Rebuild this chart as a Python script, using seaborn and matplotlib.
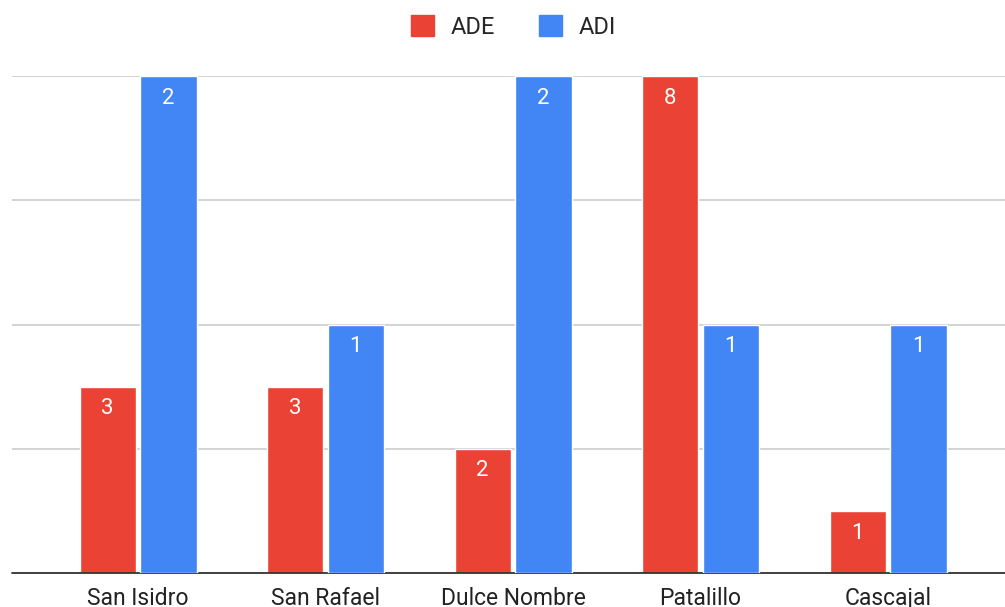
import numpy as np
import pandas as pd
import matplotlib.pyplot as plt
import seaborn as sns

# -------------------------------
# Data
# -------------------------------
municipios = ["San Isidro", "San Rafael", "Dulce Nombre", "Patalillo", "Cascajal"]
ade = [3, 3, 2, 8, 1]
adi = [2, 1, 2, 1, 1]

df = pd.DataFrame({"Municipio": municipios, "ADE": ade, "ADI": adi})

red = "#EA4335"
blue = "#4285F4"

sns.set_theme(style="white")
plt.rcParams["font.family"] = ["Roboto", "DejaVu Sans"]

fig = plt.figure(figsize=(10.05, 6.07), dpi=100)
ax = fig.add_axes([12 / 1005, 1 - 573 / 607, 1 - 12 / 1005, (573 - 76) / 607])
ax2 = ax.twinx()

x = np.arange(len(df))
w = 0.30
off = 0.162

# ADE on left axis (0-8), ADI on right axis (0-2)
bars1 = ax.bar(x - off, df["ADE"], width=w, color=red, zorder=3)
bars2 = ax2.bar(x + off, df["ADI"], width=w, color=blue, zorder=3)

ax.set_ylim(0, 8)
ax2.set_ylim(0, 2)
ax.set_xlim(-0.672, 4.624)

ax.set_yticks([0, 2, 4, 6, 8])
ax.yaxis.grid(True, color="#cccccc", linewidth=1.2, zorder=0)
ax.set_yticklabels([])
ax.tick_params(axis="y", length=0)
ax2.set_yticks([])

ax.set_xticks(x)
ax.set_xticklabels(df["Municipio"], fontsize=16.5, color="#222222")
ax.tick_params(axis="x", length=0, pad=10)

for a in (ax, ax2):
    for s in ["top", "right", "left", "bottom"]:
        a.spines[s].set_visible(False)
ax.axhline(0, color="#333333", linewidth=1.3, zorder=5, clip_on=False)

# value labels inside the bars
for a, bars, vals in [(ax, bars1, df["ADE"]), (ax2, bars2, df["ADI"])]:
    for b, v in zip(bars, vals):
        a.annotate(str(v), (b.get_x() + b.get_width() / 2, v),
                   xytext=(0, -16), textcoords="offset points",
                   ha="center", va="center", color="white", fontsize=16, zorder=6)

# legend on top
handles = [plt.Rectangle((0, 0), 1, 1, color=red), plt.Rectangle((0, 0), 1, 1, color=blue)]
fig.legend(handles, ["ADE", "ADI"], loc="center", bbox_to_anchor=(0.511, 1 - 27 / 607),
           ncol=2, frameon=False, fontsize=17, handlelength=0.95, handleheight=0.95,
           handletextpad=0.7, columnspacing=1.9)

plt.savefig("out.png", dpi=100)
